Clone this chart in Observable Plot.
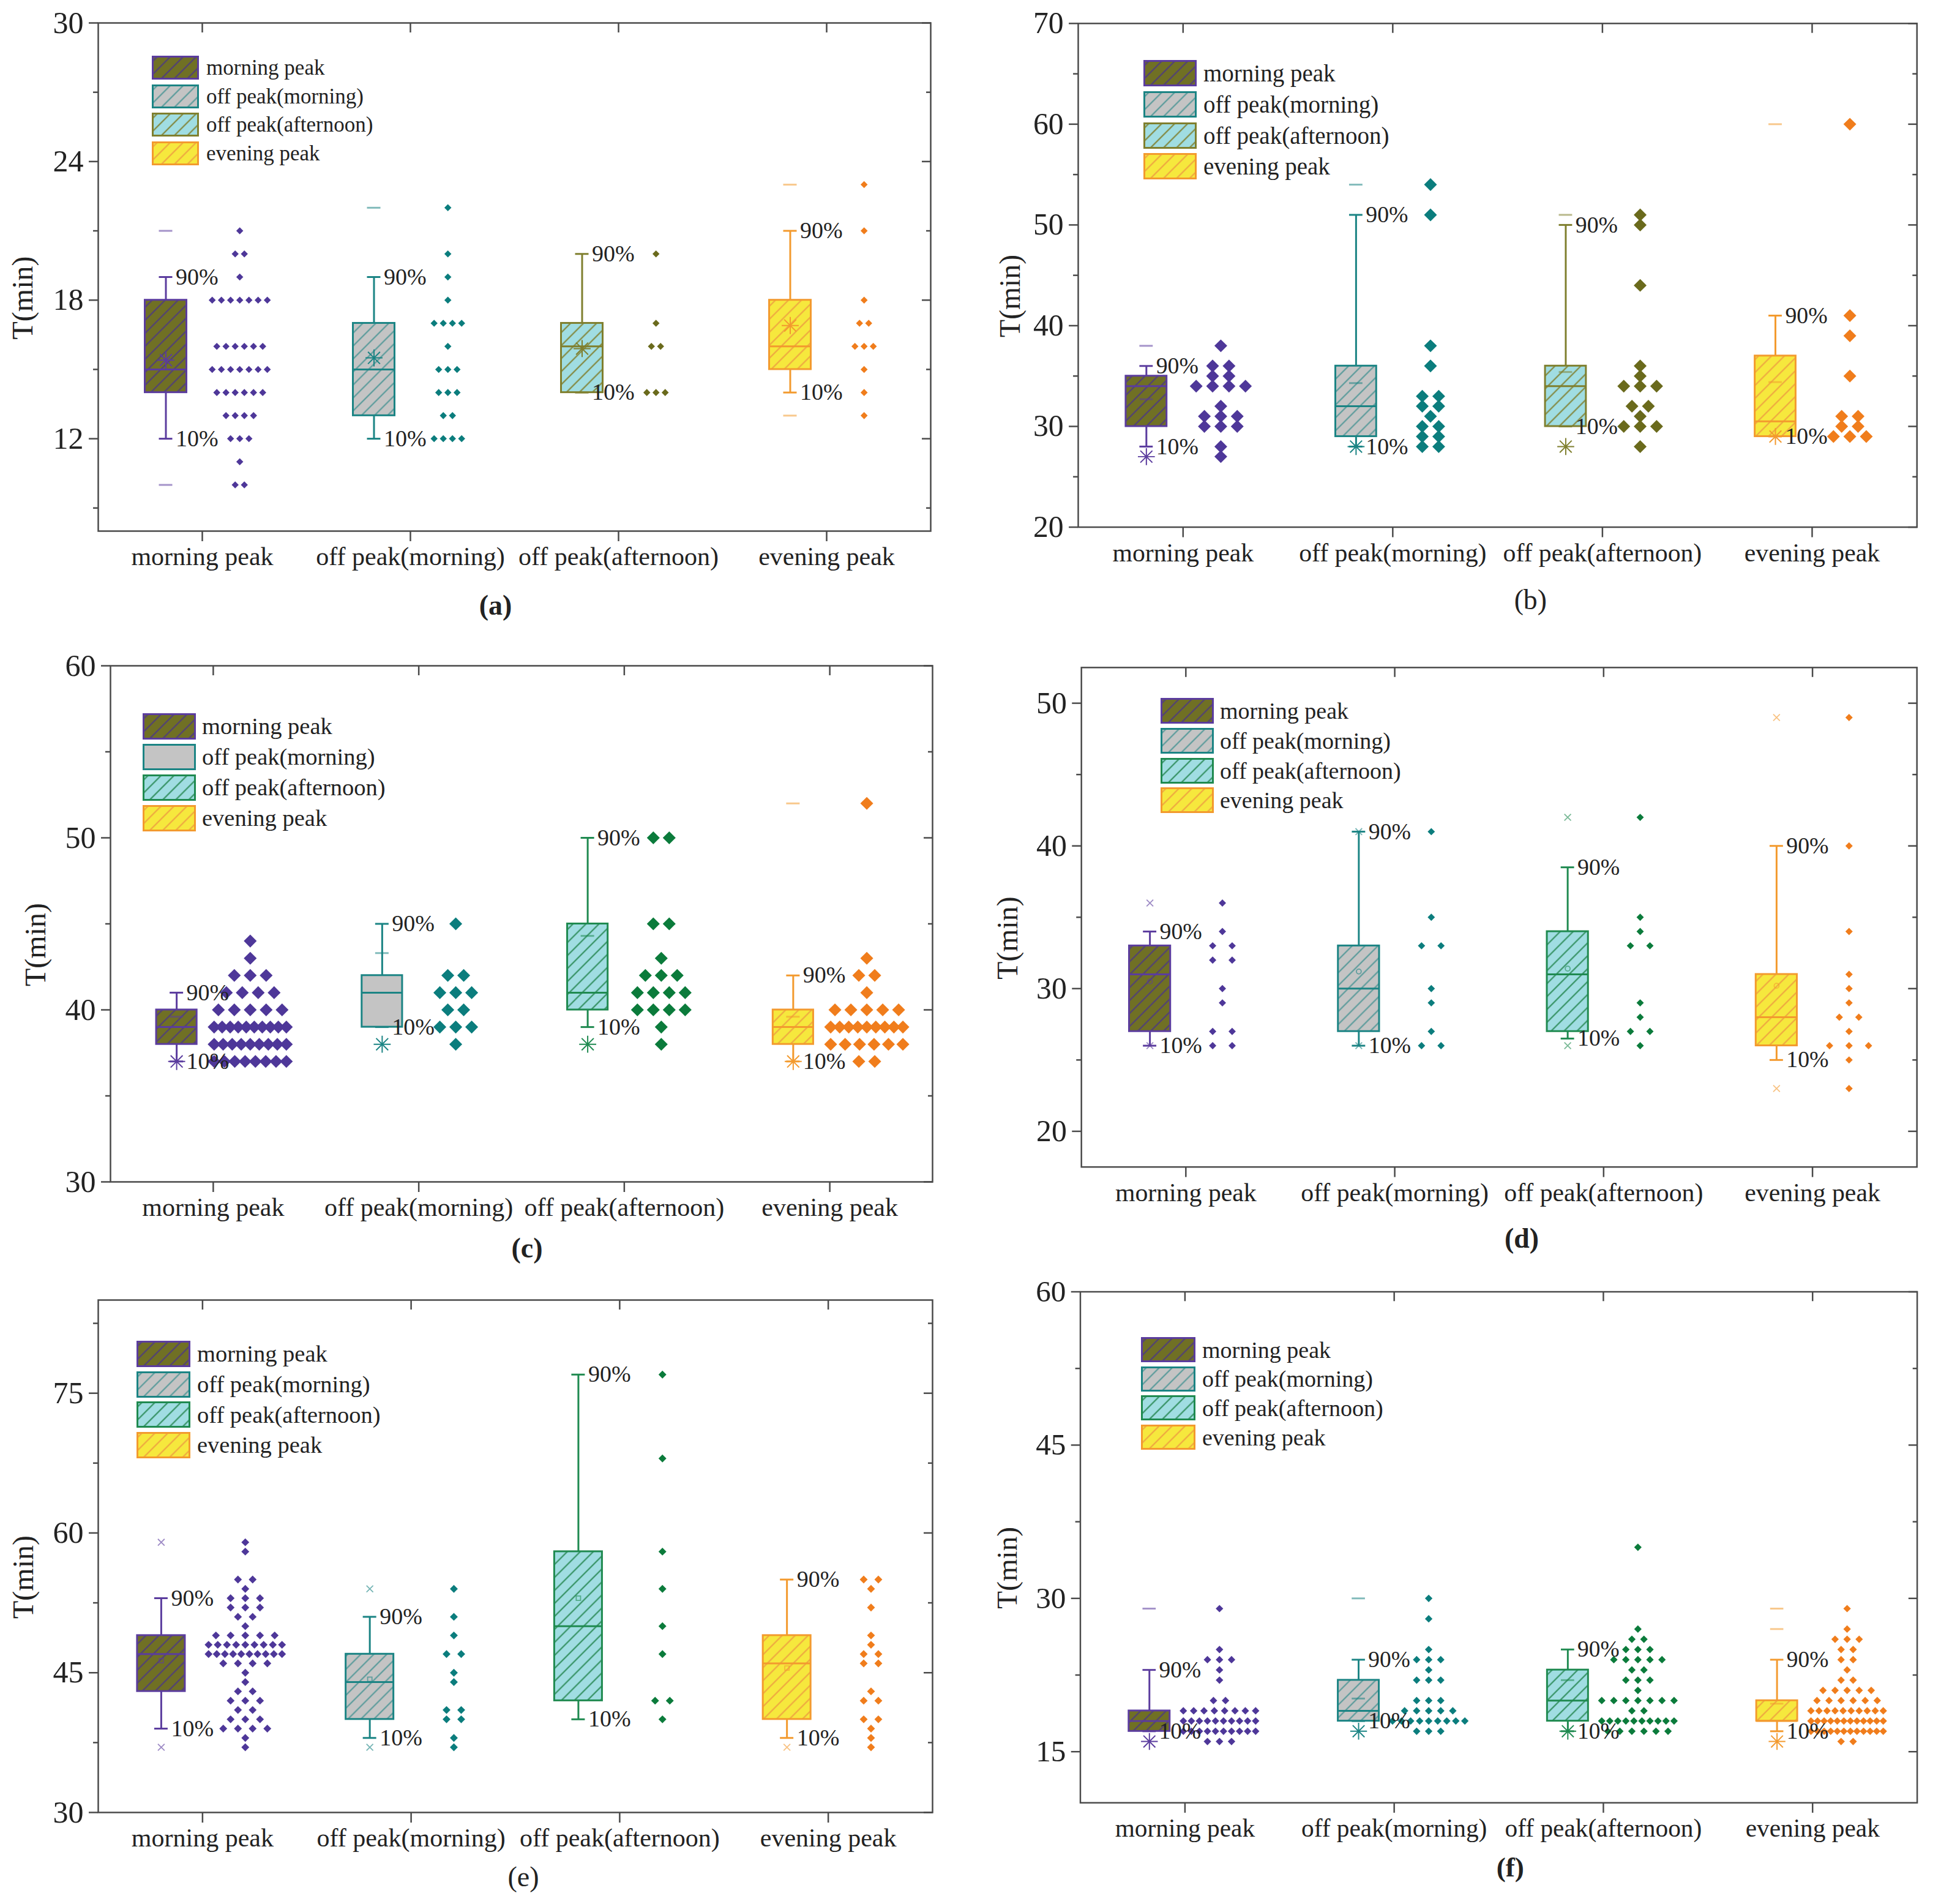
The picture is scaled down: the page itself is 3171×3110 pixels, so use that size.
<!DOCTYPE html>
<html>
<head>
<meta charset="utf-8">
<script src="https://cdn.jsdelivr.net/npm/d3@7"></script>
<script src="https://cdn.jsdelivr.net/npm/@observablehq/plot@0.6"></script>
<style>
  html, body { margin: 0; padding: 0; background: #fff; }
  body { position: relative; width: 3171px; height: 3110px; overflow: hidden; font-family: "Liberation Serif", "Times New Roman", serif; color: #222; }
  .panel { position: absolute; }
  .legend { position: absolute; }
  .legend .row { position: absolute; left: 0; display: flex; align-items: center; white-space: nowrap; }
  .legend svg { display: block; flex: none; }
</style>
</head>
<body>
<svg width="0" height="0" style="position:absolute">
  <defs>
    <pattern id="h-olive" patternUnits="userSpaceOnUse" width="15" height="15" patternTransform="rotate(45)">
      <rect width="15" height="15" fill="#707024"/>
      <line x1="7.5" y1="0" x2="7.5" y2="15" stroke="#4d3a80" stroke-width="2"/>
    </pattern>
    <pattern id="h-gray" patternUnits="userSpaceOnUse" width="15" height="15" patternTransform="rotate(45)">
      <rect width="15" height="15" fill="#c4c4c4"/>
      <line x1="7.5" y1="0" x2="7.5" y2="15" stroke="#4f9797" stroke-width="2"/>
    </pattern>
    <pattern id="h-cyan-o" patternUnits="userSpaceOnUse" width="15" height="15" patternTransform="rotate(45)">
      <rect width="15" height="15" fill="#a0dde2"/>
      <line x1="7.5" y1="0" x2="7.5" y2="15" stroke="#7f7f2e" stroke-width="2"/>
    </pattern>
    <pattern id="h-cyan-g" patternUnits="userSpaceOnUse" width="15" height="15" patternTransform="rotate(45)">
      <rect width="15" height="15" fill="#a0dde2"/>
      <line x1="7.5" y1="0" x2="7.5" y2="15" stroke="#2a8a55" stroke-width="2"/>
    </pattern>
    <pattern id="h-yellow" patternUnits="userSpaceOnUse" width="15" height="15" patternTransform="rotate(45)">
      <rect width="15" height="15" fill="#f6e83d"/>
      <line x1="7.5" y1="0" x2="7.5" y2="15" stroke="#eea040" stroke-width="2"/>
    </pattern>
  </defs>
</svg>
<script>
const categories = ["morning peak", "off peak(morning)", "off peak(afternoon)", "evening peak"];
const yLabel = "T(min)";

// ---------- panel (a) ----------
const aDomain = [8, 30];
const aTicks = [12, 18, 24, 30];
const aMinor = [9, 15, 21, 27];
const aP10 = [12, 12, 14, 14];
const aQ1 = [14, 13, 14, 15];
const aMed = [15, 15, 16, 16];
const aQ3 = [18, 17, 17, 18];
const aP90 = [19, 19, 20, 21];
const aMean = [15.4, 15.5, 15.9, 16.9];
const aMin = [10, null, null, 13];
const aMax = [21, 22, null, 23];
const aExtra = [null, null, null, null];
const aPts = [
  [[21,1],[20,2],[19,1],[18,7],[16,6],[15,7],[14,6],[13,4],[12,3],[11,1],[10,2]],
  [[22,1],[20,1],[19,1],[18,1],[17,4],[16,1],[15,3],[14,3],[13,2],[12,4]],
  [[20,1],[17,1],[16,2],[14,3]],
  [[23,1],[21,1],[18,1],[17,2],[16,3],[15,1],[14,1],[13,1]]
];

// ---------- panel (b) ----------
const bDomain = [20, 70];
const bTicks = [20, 30, 40, 50, 60, 70];
const bMinor = [25, 35, 45, 55, 65];
const bP10 = [28, 28, 30, 29];
const bQ1 = [30, 29, 30, 29];
const bMed = [34, 32, 34, 30.5];
const bQ3 = [35, 36, 36, 37];
const bP90 = [36, 51, 50, 41];
const bMean = [32.7, 34.3, 35.4, 34.4];
const bMin = [27, 28, 28, 29];
const bMax = [38, 54, 51, 60];
const bExtra = [null, null, null, null];
const bPts = [
  [[38,1],[36,2],[35,2],[34,4],[32,1],[31,3],[30,3],[28,1],[27,1]],
  [[54,1],[51,1],[38,1],[36,1],[33,2],[32,2],[31,1],[30,2],[29,2],[28,2]],
  [[51,1],[50,1],[44,1],[36,1],[35,1],[34,3],[32,2],[31,1],[30,3],[28,1]],
  [[60,1],[41,1],[39,1],[35,1],[31,2],[30,2],[29,3]]
];

// ---------- panel (c) ----------
const cDomain = [30, 60];
const cTicks = [30, 40, 50, 60];
const cMinor = [35, 45, 55];
const cP10 = [37, 39, 39, 37];
const cQ1 = [38, 39, 40, 38];
const cMed = [39, 41, 41, 39];
const cQ3 = [40, 42, 45, 40];
const cP90 = [41, 45, 50, 42];
const cMean = [39.6, 43.3, 44.3, 39.6];
const cMin = [37, 38, 38, 37];
const cMax = [null, null, null, 52];
const cExtra = [null, null, null, null];
const cPts = [
  [[44,1],[43,1],[42,3],[41,4],[40,5],[39,10],[38,9],[37,8]],
  [[45,1],[42,2],[41,3],[40,2],[39,3],[38,1]],
  [[50,2],[45,2],[43,1],[42,3],[41,4],[40,4],[39,1],[38,1]],
  [[52,1],[43,1],[42,2],[41,1],[40,5],[39,9],[38,6],[37,2]]
];

// ---------- panel (d) ----------
const dDomain = [17.5, 52.5];
const dTicks = [20, 30, 40, 50];
const dMinor = [25, 35, 45];
const dP10 = [26, 26, 26.5, 25];
const dQ1 = [27, 27, 27, 26];
const dMed = [31, 30, 31, 28];
const dQ3 = [33, 33, 34, 31];
const dP90 = [34, 41, 38.5, 40];
const dMean = [30.5, 31.2, 31.4, 30.2];
const dMin = [26, 26, 26, 23];
const dMax = [36, 41, 42, 49];
const dExtra = [null, null, null, null];
const dPts = [
  [[36,1],[34,1],[33,2],[32,2],[30,1],[29,1],[27,2],[26,2]],
  [[41,1],[35,1],[33,2],[30,1],[29,1],[27,1],[26,2]],
  [[42,1],[35,1],[34,1],[33,2],[29,1],[28,1],[27,2],[26,1]],
  [[49,1],[40,1],[34,1],[31,1],[30,1],[29,1],[28,2],[27,1],[26,3],[25,1],[23,1]]
];

// ---------- panel (e) ----------
const eDomain = [30, 85];
const eTicks = [30, 45, 60, 75];
const eMinor = [37.5, 52.5, 67.5, 82.5];
const eP10 = [39, 38, 40, 38];
const eQ1 = [43, 40, 42, 40];
const eMed = [47, 44, 50, 46];
const eQ3 = [49, 47, 58, 49];
const eP90 = [53, 51, 77, 55];
const eMean = [46.3, 44.3, 53, 45.5];
const eMin = [37, 37, null, 37];
const eMax = [59, 54, null, null];
const eExtra = [null, null, null, null];
const ePts = [
  [[59,1],[58,1],[55,2],[54,1],[53,3],[52,3],[51,2],[50,1],[49,5],[48,9],[47,10],[46,4],[45,1],[44,1],[43,2],[42,3],[41,2],[40,3],[39,4],[38,1],[37,1]],
  [[54,1],[51,1],[49,1],[47,2],[45,1],[44,1],[41,2],[40,2],[38,1],[37,1]],
  [[77,1],[68,1],[58,1],[54,1],[50,1],[47,1],[42,2],[40,1]],
  [[55,2],[54,1],[52,1],[49,1],[48,1],[47,2],[46,2],[43,1],[42,2],[40,2],[39,1],[38,1],[37,1]]
];

// ---------- panel (f) ----------
const fDomain = [10, 60];
const fTicks = [15, 30, 45, 60];
const fMinor = [22.5, 37.5, 52.5];
const fP10 = [17, 18, 17, 17];
const fQ1 = [17, 18, 18, 18];
const fMed = [18, 19, 20, 18];
const fQ3 = [19, 22, 23, 20];
const fP90 = [23, 24, 25, 24];
const fMean = [18, 20.2, 22, 19.7];
const fMin = [16, 17, 17, 16];
const fMax = [29, 30, null, 29];
const fExtra = [null, null, null, 27];
const fPts = [
  [[29,1],[25,1],[24,3],[23,1],[22,1],[20,2],[19,8],[18,10],[17,10],[16,3]],
  [[30,1],[28,1],[25,1],[24,3],[23,1],[22,3],[20,3],[19,5],[18,9],[17,3]],
  [[35,1],[27,1],[26,2],[25,3],[24,5],[23,2],[22,3],[21,1],[20,7],[19,2],[18,10],[17,6]],
  [[29,1],[27,1],[26,3],[25,2],[24,2],[23,1],[22,2],[21,5],[20,6],[19,10],[18,12],[17,12],[16,2]]
];

// ---------- styles ----------
const PURPLE = "#5b3c9e", TEAL = "#1b8484", OLIVE_S = "#7f7f2e", GREEN_S = "#1f8a50", ORANGE = "#f39a2e";
const DOT_PURPLE = "#4e3799", DOT_TEAL = "#0b7d7d", DOT_OLIVE = "#6a6a1c", DOT_GREEN = "#0b7b3b", DOT_ORANGE = "#f07d1c";
const AXIS = "#4a4a4a";

const panels = [
  {id: "a", frame: [160, 37, 1520, 867], domain: aDomain, ticks: aTicks, minor: aMinor,
   stats: {p10: aP10, q1: aQ1, med: aMed, q3: aQ3, p90: aP90, mean: aMean, min: aMin, max: aMax, extra: aExtra}, pts: aPts,
   look: {afternoon: "olive", plainGray: false, meanSym: "asterisk", minSym: "dash", maxSym: "dash", dotR: 5.2, spread: 100, pairGap: 15,
          boxOff: -0.175, ptOff: 0.18, boxW: 0.2, yLabelOff: 123, panelDy: 136, panelDx: -31, panelBold: true},
   legend: {left: 248, top: 91, sw: 77, sh: 39, pitch: 46.5, font: 35, gap: 12}},
  {id: "b", frame: [1762, 38, 3141, 866], domain: bDomain, ticks: bTicks, minor: bMinor,
   stats: {p10: bP10, q1: bQ1, med: bMed, q3: bQ3, p90: bP90, mean: bMean, min: bMin, max: bMax, extra: bExtra}, pts: bPts,
   look: {afternoon: "olive", plainGray: false, meanSym: "dash", minSym: "asterisk", maxSym: "dash", dotR: 9.5, spread: 105, pairGap: 27,
          boxOff: -0.175, ptOff: 0.18, boxW: 0.195, yLabelOff: 111, panelDy: 135, panelDx: 54, panelBold: false},
   legend: {left: 1868, top: 98, sw: 87, sh: 43, pitch: 50.8, font: 39, gap: 11}},
  {id: "c", frame: [180, 1087, 1523, 1930], domain: cDomain, ticks: cTicks, minor: cMinor,
   stats: {p10: cP10, q1: cQ1, med: cMed, q3: cQ3, p90: cP90, mean: cMean, min: cMin, max: cMax, extra: cExtra}, pts: cPts,
   look: {afternoon: "green", plainGray: true, meanSym: "dash", minSym: "asterisk", maxSym: "dash", dotR: 9.5, spread: 118, pairGap: 26,
          boxOff: -0.178, ptOff: 0.18, boxW: 0.197, yLabelOff: 122, panelDy: 123, panelDx: 9, panelBold: true},
   legend: {left: 233, top: 1165, sw: 87, sh: 43, pitch: 50, font: 38.5, gap: 10}},
  {id: "d", frame: [1767, 1090, 3139, 1910], domain: dDomain, ticks: dTicks, minor: dMinor,
   stats: {p10: dP10, q1: dQ1, med: dMed, q3: dQ3, p90: dP90, mean: dMean, min: dMin, max: dMax, extra: dExtra}, pts: dPts,
   look: {afternoon: "green", plainGray: false, meanSym: "circle", minSym: "times", maxSym: "times", dotR: 5.4, spread: 95, pairGap: 32,
          boxOff: -0.172, ptOff: 0.175, boxW: 0.197, yLabelOff: 121, panelDy: 133, panelDx: 37, panelBold: true},
   legend: {left: 1896, top: 1140, sw: 87, sh: 42, pitch: 48.8, font: 38, gap: 10}},
  {id: "e", frame: [160, 2123, 1523, 2960], domain: eDomain, ticks: eTicks, minor: eMinor,
   stats: {p10: eP10, q1: eQ1, med: eMed, q3: eQ3, p90: eP90, mean: eMean, min: eMin, max: eMax, extra: eExtra}, pts: ePts,
   look: {afternoon: "green", plainGray: false, meanSym: "square", minSym: "times", maxSym: "times", dotR: 5.8, spread: 120, pairGap: 24,
          boxOff: -0.198, ptOff: 0.205, boxW: 0.229, yLabelOff: 122, panelDy: 120, panelDx: 13, panelBold: false},
   legend: {left: 223, top: 2190, sw: 88, sh: 43, pitch: 49.7, font: 38.5, gap: 11}},
  {id: "f", frame: [1767, 2110, 3156, 2958], domain: fDomain, ticks: fTicks, minor: fMinor,
   stats: {p10: fP10, q1: fQ1, med: fMed, q3: fQ3, p90: fP90, mean: fMean, min: fMin, max: fMax, extra: fExtra}, pts: fPts,
   look: {afternoon: "green", plainGray: false, meanSym: "dash", minSym: "asterisk", maxSym: "dash", dotR: 5.6, spread: 120, pairGap: 20,
          boxOff: -0.17, ptOff: 0.165, boxW: 0.196, yLabelOff: 121, panelDy: 122, panelDx: 19, panelBold: true},
   legend: {left: 1864, top: 2184, sw: 89, sh: 41, pitch: 47.7, font: 38, gap: 11}}
];

function expandPoints(rows, spread, pairGap) {
  const out = [];
  for (const [v, n] of rows) {
    const s = n > 1 ? Math.min(pairGap, spread / (n - 1)) : 0;
    for (let j = 0; j < n; j++) out.push({v, off: (j - (n - 1) / 2) * s});
  }
  return out;
}

function markerMarks(data, field, sym, cx, capU, st) {
  const dd = data.filter(s => s[field] != null);
  if (!dd.length) return [];
  if (sym === "dash") {
    return [Plot.ruleY(dd, {y: field, x1: () => cx - capU, x2: () => cx + capU, stroke: st, strokeOpacity: 0.55, strokeWidth: 3})];
  }
  if (sym === "asterisk") {
    // eight-armed star: a plus and a times overlaid
    return ["plus", "times"].map(s => Plot.dot(dd, {x: () => cx, y: field, symbol: s, r: 9, stroke: st, strokeWidth: 2, fill: "none"}));
  }
  const r = sym === "times" ? 5 : 4;
  return [Plot.dot(dd, {x: () => cx, y: field, symbol: sym, r, stroke: st, strokeWidth: 1.8, strokeOpacity: 0.6, fill: "none"})];
}

function drawPanel(p) {
  const [L, T, R, B] = p.frame;
  const ML = 160, MT = 30, MR = 40, MB = 150;
  const fw = R - L, fh = B - T;
  const band = fw / 4;
  const lk = p.look;
  const olive = lk.afternoon === "olive";
  const strokes = [PURPLE, TEAL, olive ? OLIVE_S : GREEN_S, ORANGE];
  const dotColors = [DOT_PURPLE, DOT_TEAL, olive ? DOT_OLIVE : DOT_GREEN, DOT_ORANGE];
  const fills = ["url(#h-olive)", lk.plainGray ? "#c4c4c4" : "url(#h-gray)", olive ? "url(#h-cyan-o)" : "url(#h-cyan-g)", "url(#h-yellow)"];
  const capU = 11 / band;
  const hw = lk.boxW / 2;

  const marks = [];
  categories.forEach((cat, i) => {
    const s = {
      p10: p.stats.p10[i], q1: p.stats.q1[i], med: p.stats.med[i], q3: p.stats.q3[i], p90: p.stats.p90[i],
      mean: p.stats.mean[i], min: p.stats.min[i], max: p.stats.max[i], extra: p.stats.extra[i]
    };
    const d = [s];
    const cx = i + lk.boxOff;
    const st = strokes[i];
    marks.push(
      Plot.ruleX(d, {x: () => cx, y1: "q3", y2: "p90", stroke: st, strokeWidth: 3}),
      Plot.ruleX(d, {x: () => cx, y1: "p10", y2: "q1", stroke: st, strokeWidth: 3}),
      Plot.ruleY(d, {y: "p90", x1: () => cx - capU, x2: () => cx + capU, stroke: st, strokeWidth: 3}),
      Plot.ruleY(d, {y: "p10", x1: () => cx - capU, x2: () => cx + capU, stroke: st, strokeWidth: 3}),
      Plot.rect(d, {x1: () => cx - hw, x2: () => cx + hw, y1: "q1", y2: "q3", fill: fills[i], stroke: st, strokeWidth: 3}),
      Plot.ruleY(d, {y: "med", x1: () => cx - hw, x2: () => cx + hw, stroke: st, strokeWidth: 3}),
      ...markerMarks(d, "mean", lk.meanSym, cx, capU, st),
      ...markerMarks(d, "min", lk.minSym, cx, capU, st),
      ...markerMarks(d, "max", lk.maxSym, cx, capU, st),
      ...markerMarks(d, "extra", "dash", cx, capU, st)
    );
    const pts = expandPoints(p.pts[i], lk.spread, lk.pairGap);
    marks.push(Plot.dot(pts, {x: q => i + lk.ptOff + q.off / band, y: "v", symbol: "diamond2", r: lk.dotR, fill: dotColors[i], stroke: "none"}));
    marks.push(
      Plot.text(d, {x: () => cx, y: "p90", text: () => "90%", dx: 16, textAnchor: "start", fontSize: 38, fill: "#222"}),
      Plot.text(d, {x: () => cx, y: "p10", text: () => "10%", dx: 16, textAnchor: "start", fontSize: 38, fill: "#222"})
    );
  });

  const chart = Plot.plot({
    width: fw + ML + MR,
    height: fh + MT + MB,
    marginLeft: ML, marginTop: MT, marginRight: MR, marginBottom: MB,
    x: {domain: [-0.5, 3.5]},
    y: {domain: p.domain},
    style: {fontFamily: "'Liberation Serif', 'Times New Roman', serif", background: "transparent", color: "#222", overflow: "visible"},
    marks: [
      Plot.axisY({ticks: p.ticks, tickSize: 15, tickPadding: 9, fontSize: 50, tickFormat: v => String(v), label: null, stroke: AXIS, strokeWidth: 2.5, fill: "#222"}),
      Plot.axisY({ticks: p.minor, tickSize: 8, tickFormat: () => "", label: null, stroke: AXIS, strokeWidth: 2.5}),
      Plot.axisY({anchor: "right", ticks: p.ticks, tickSize: 15, dx: -15, tickFormat: () => "", label: null, stroke: AXIS, strokeWidth: 2.5}),
      Plot.axisY({anchor: "right", ticks: p.minor, tickSize: 8, dx: -8, tickFormat: () => "", label: null, stroke: AXIS, strokeWidth: 2.5}),
      Plot.axisX({ticks: [0, 1, 2, 3], tickSize: 17, tickPadding: 9, fontSize: 42, tickFormat: k => categories[k], label: null, stroke: AXIS, strokeWidth: 2.5, fill: "#222"}),
      Plot.axisX({anchor: "top", ticks: [0, 1, 2, 3], tickSize: 15, dy: 15, tickFormat: () => "", label: null, stroke: AXIS, strokeWidth: 2.5}),
      ...marks,
      Plot.frame({stroke: AXIS, strokeWidth: 2.5}),
      Plot.text([yLabel], {frameAnchor: "left", textAnchor: "middle", dx: -lk.yLabelOff, dy: 34, rotate: -90, fontSize: 48, fill: "#222"}),
      Plot.text([`(${p.id})`], {frameAnchor: "bottom", dx: lk.panelDx, dy: lk.panelDy, fontSize: 46, fontWeight: lk.panelBold ? "bold" : "normal", fill: "#222"})
    ]
  });
  const wrap = document.createElement("div");
  wrap.className = "panel";
  wrap.style.left = (L - ML) + "px";
  wrap.style.top = (T - MT) + "px";
  wrap.appendChild(chart);
  document.body.appendChild(wrap);

  // legend inside the frame
  const lg = p.legend;
  const ldiv = document.createElement("div");
  ldiv.className = "legend";
  ldiv.style.left = lg.left + "px";
  ldiv.style.top = lg.top + "px";
  categories.forEach((c, i) => {
    const row = document.createElement("div");
    row.className = "row";
    row.style.top = (i * lg.pitch) + "px";
    row.style.height = lg.sh + "px";
    row.innerHTML = `<svg width="${lg.sw}" height="${lg.sh}"><rect x="1.5" y="1.5" width="${lg.sw - 3}" height="${lg.sh - 3}" fill="${fills[i]}" stroke="${strokes[i]}" stroke-width="3"/></svg>` +
      `<span style="margin-left:${lg.gap}px;font-size:${lg.font}px;line-height:1;color:#222">${c}</span>`;
    ldiv.appendChild(row);
  });
  document.body.appendChild(ldiv);
}

panels.forEach(drawPanel);
</script>
</body>
</html>
